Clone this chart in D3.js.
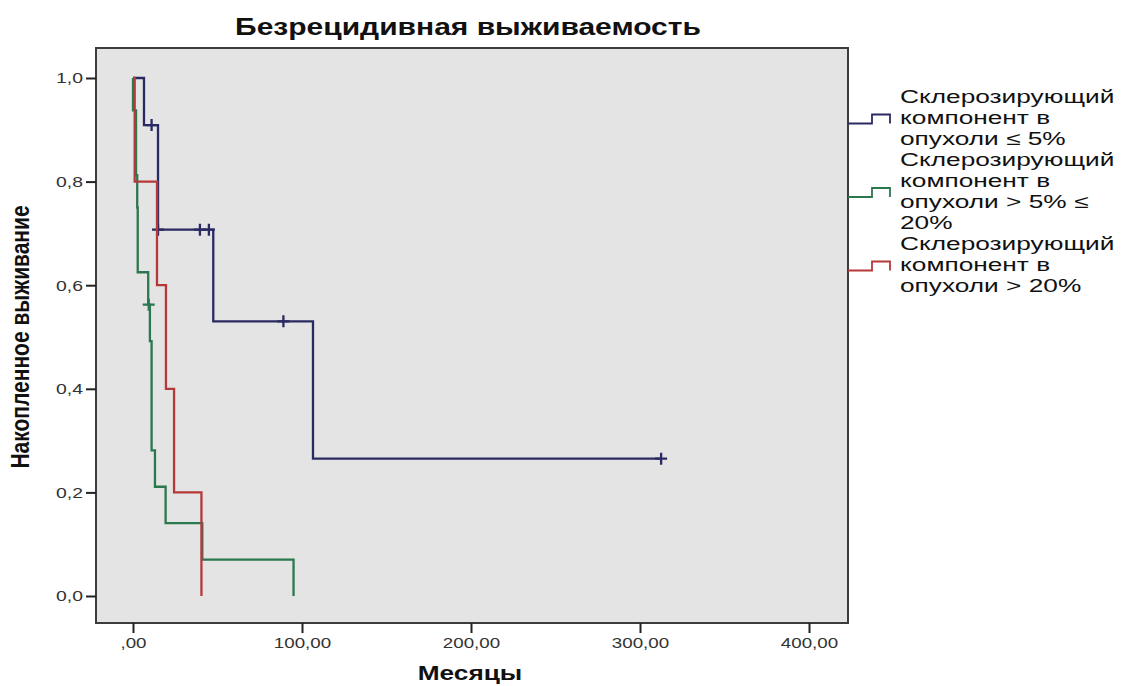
<!DOCTYPE html>
<html>
<head>
<meta charset="utf-8">
<script src="https://cdn.jsdelivr.net/npm/d3@7"></script>
<style>html,body{margin:0;padding:0;background:#fff}</style>
</head>
<body>
<svg id="chart" width="1121" height="686"></svg>
<script>
// Kaplan–Meier curves: step times (months) and cumulative survival after each step
const groupLabels = [
  ["Склерозирующий", "компонент в", "опухоли ≤ 5%"],
  ["Склерозирующий", "компонент в", "опухоли > 5% ≤", "20%"],
  ["Склерозирующий", "компонент в", "опухоли > 20%"]
];
const groupColors = ["#2a2a62", "#2b774e", "#b53939"];

const lowTimes = [0, 6.5, 14.8, 47.5, 106.5, 312.5];
const lowSurv  = [1, 0.9091, 0.7071, 0.5303, 0.2652, 0.2652];
const lowCensorTimes = [11, 14.8, 39.6, 44.9, 89, 312.5];
const lowCensorSurv  = [0.9091, 0.7071, 0.7071, 0.7071, 0.5303, 0.2652];

const midTimes = [0, 0.01, 1.8, 2.5, 2.8, 9, 10, 11, 13, 19.3, 41, 95];
const midSurv  = [1, 0.9375, 0.8125, 0.75, 0.625, 0.5625, 0.4922, 0.2813, 0.2109, 0.1406, 0.0703, 0];
const midCensorTimes = [9.3];
const midCensorSurv  = [0.5625];

const highTimes = [0, 1, 14.2, 19.5, 24.3, 40.5];
const highSurv  = [1, 0.8, 0.6, 0.4, 0.2, 0];
const highCensorTimes = [];
const highCensorSurv  = [];

const xTickValues = [0, 100, 200, 300, 400];
const xTickLabels = [",00", "100,00", "200,00", "300,00", "400,00"];
const yTickValues = [0, 0.2, 0.4, 0.6, 0.8, 1];
const yTickLabels = ["0,0", "0,2", "0,4", "0,6", "0,8", "1,0"];

const titleText = "Безрецидивная выживаемость";
const xTitle = "Месяцы";
const yTitle = "Накопленное выживание";

// ---- layout ----
const W = 1121, H = 686;
const frame = {left: 96, top: 48, right: 848, bottom: 623};
const STRETCH = 1.25;           // text is drawn slightly wide
const FONT = "'Liberation Sans', Arial, Helvetica, sans-serif";

const svg = d3.select("#chart");
svg.append("rect").attr("width", W).attr("height", H).attr("fill", "#fff");

const x = d3.scaleLinear().domain([0, 400]).range([133, 809]);
const y = d3.scaleLinear().domain([0, 1]).range([596, 78]);

// plot area
svg.append("rect")
  .attr("x", frame.left).attr("y", frame.top)
  .attr("width", frame.right - frame.left).attr("height", frame.bottom - frame.top)
  .attr("fill", "#e4e4e4").attr("stroke", "#3c3c3c").attr("stroke-width", 2);

// x axis
const gx = svg.append("g")
  .attr("transform", `translate(0,${frame.bottom})`)
  .call(d3.axisBottom(x).tickValues(xTickValues)
    .tickFormat((d, i) => xTickLabels[i]).tickSize(10).tickPadding(4));
gx.select(".domain").remove();
gx.selectAll(".tick line").attr("stroke", "#222").attr("stroke-width", 2);
gx.selectAll(".tick text")
  .attr("font-family", FONT).attr("font-size", 15).attr("fill", "#333")
  .attr("transform", `scale(${STRETCH},1)`);

// y axis
const gy = svg.append("g")
  .attr("transform", `translate(${frame.left},0)`)
  .call(d3.axisLeft(y).tickValues(yTickValues)
    .tickFormat((d, i) => yTickLabels[i]).tickSize(10).tickPadding(3));
gy.select(".domain").remove();
gy.selectAll(".tick line").attr("stroke", "#222").attr("stroke-width", 2);
gy.selectAll(".tick text")
  .attr("font-family", FONT).attr("font-size", 15.5).attr("fill", "#333")
  .attr("x", -13 / STRETCH)
  .attr("transform", `scale(${STRETCH},1)`);

// titles
svg.append("text")
  .attr("transform", `translate(468,35) scale(${STRETCH},1)`)
  .attr("text-anchor", "middle").attr("font-family", FONT)
  .attr("font-weight", "bold").attr("font-size", 24).attr("fill", "#111")
  .text(titleText);

svg.append("text")
  .attr("transform", `translate(470,680) scale(${STRETCH},1)`)
  .attr("text-anchor", "middle").attr("font-family", FONT)
  .attr("font-weight", "bold").attr("font-size", 21).attr("fill", "#111")
  .text(xTitle);

svg.append("text")
  .attr("transform", `translate(20,337) scale(${STRETCH},1) rotate(-90)`)
  .attr("text-anchor", "middle").attr("dy", "0.35em").attr("font-family", FONT)
  .attr("font-weight", "bold").attr("font-size", 21).attr("fill", "#111")
  .text(yTitle);

// survival curves
const series = [
  {t: lowTimes,  s: lowSurv,  ct: lowCensorTimes,  cs: lowCensorSurv,  color: groupColors[0]},
  {t: midTimes,  s: midSurv,  ct: midCensorTimes,  cs: midCensorSurv,  color: groupColors[1]},
  {t: highTimes, s: highSurv, ct: highCensorTimes, cs: highCensorSurv, color: groupColors[2]}
];

const step = d3.line()
  .x(d => x(d[0])).y(d => y(d[1]))
  .curve(d3.curveStepAfter);

const plot = svg.append("g");
series.forEach(g => {
  const pts = g.t.map((t, i) => [t, g.s[i]]);
  plot.append("path")
    .attr("d", step(pts))
    .attr("fill", "none").attr("stroke", g.color)
    .attr("stroke-width", 2.3).attr("stroke-linejoin", "miter");

  plot.selectAll(null)
    .data(g.ct.map((t, i) => [t, g.cs[i]]))
    .join("path")
    .attr("transform", d => `translate(${x(d[0])},${y(d[1])})`)
    .attr("d", "M-6,0H6M0,-6V6")
    .attr("stroke", g.color).attr("stroke-width", 2.3).attr("fill", "none");
});

// legend
const legendX = 900, firstLineY = 97, lineGap = 21;
const legendFont = 18.5, legendStretch = 1.42;
let lineIdx = 0;
const legend = svg.append("g");
groupLabels.forEach((lines, gi) => {
  const ys = lines.map((_, k) => firstLineY + (lineIdx + k) * lineGap);
  lineIdx += lines.length;
  ys.forEach((ly, k) => {
    legend.append("text")
      .attr("transform", `translate(${legendX},${ly}) scale(${legendStretch},1)`)
      .attr("dy", "0.35em").attr("font-family", FONT).attr("font-size", legendFont)
      .attr("fill", "#111").text(lines[k]);
  });
  const cy = (ys[0] + ys[ys.length - 1]) / 2 + 1;
  const lo = cy + 4.5, hi = cy - 4.5;
  legend.append("path")
    .attr("d", `M${frame.right},${lo}H872V${hi}H890V${lo}`)
    .attr("fill", "none").attr("stroke", groupColors[gi]).attr("stroke-width", 1.8);
});
</script>
</body>
</html>
